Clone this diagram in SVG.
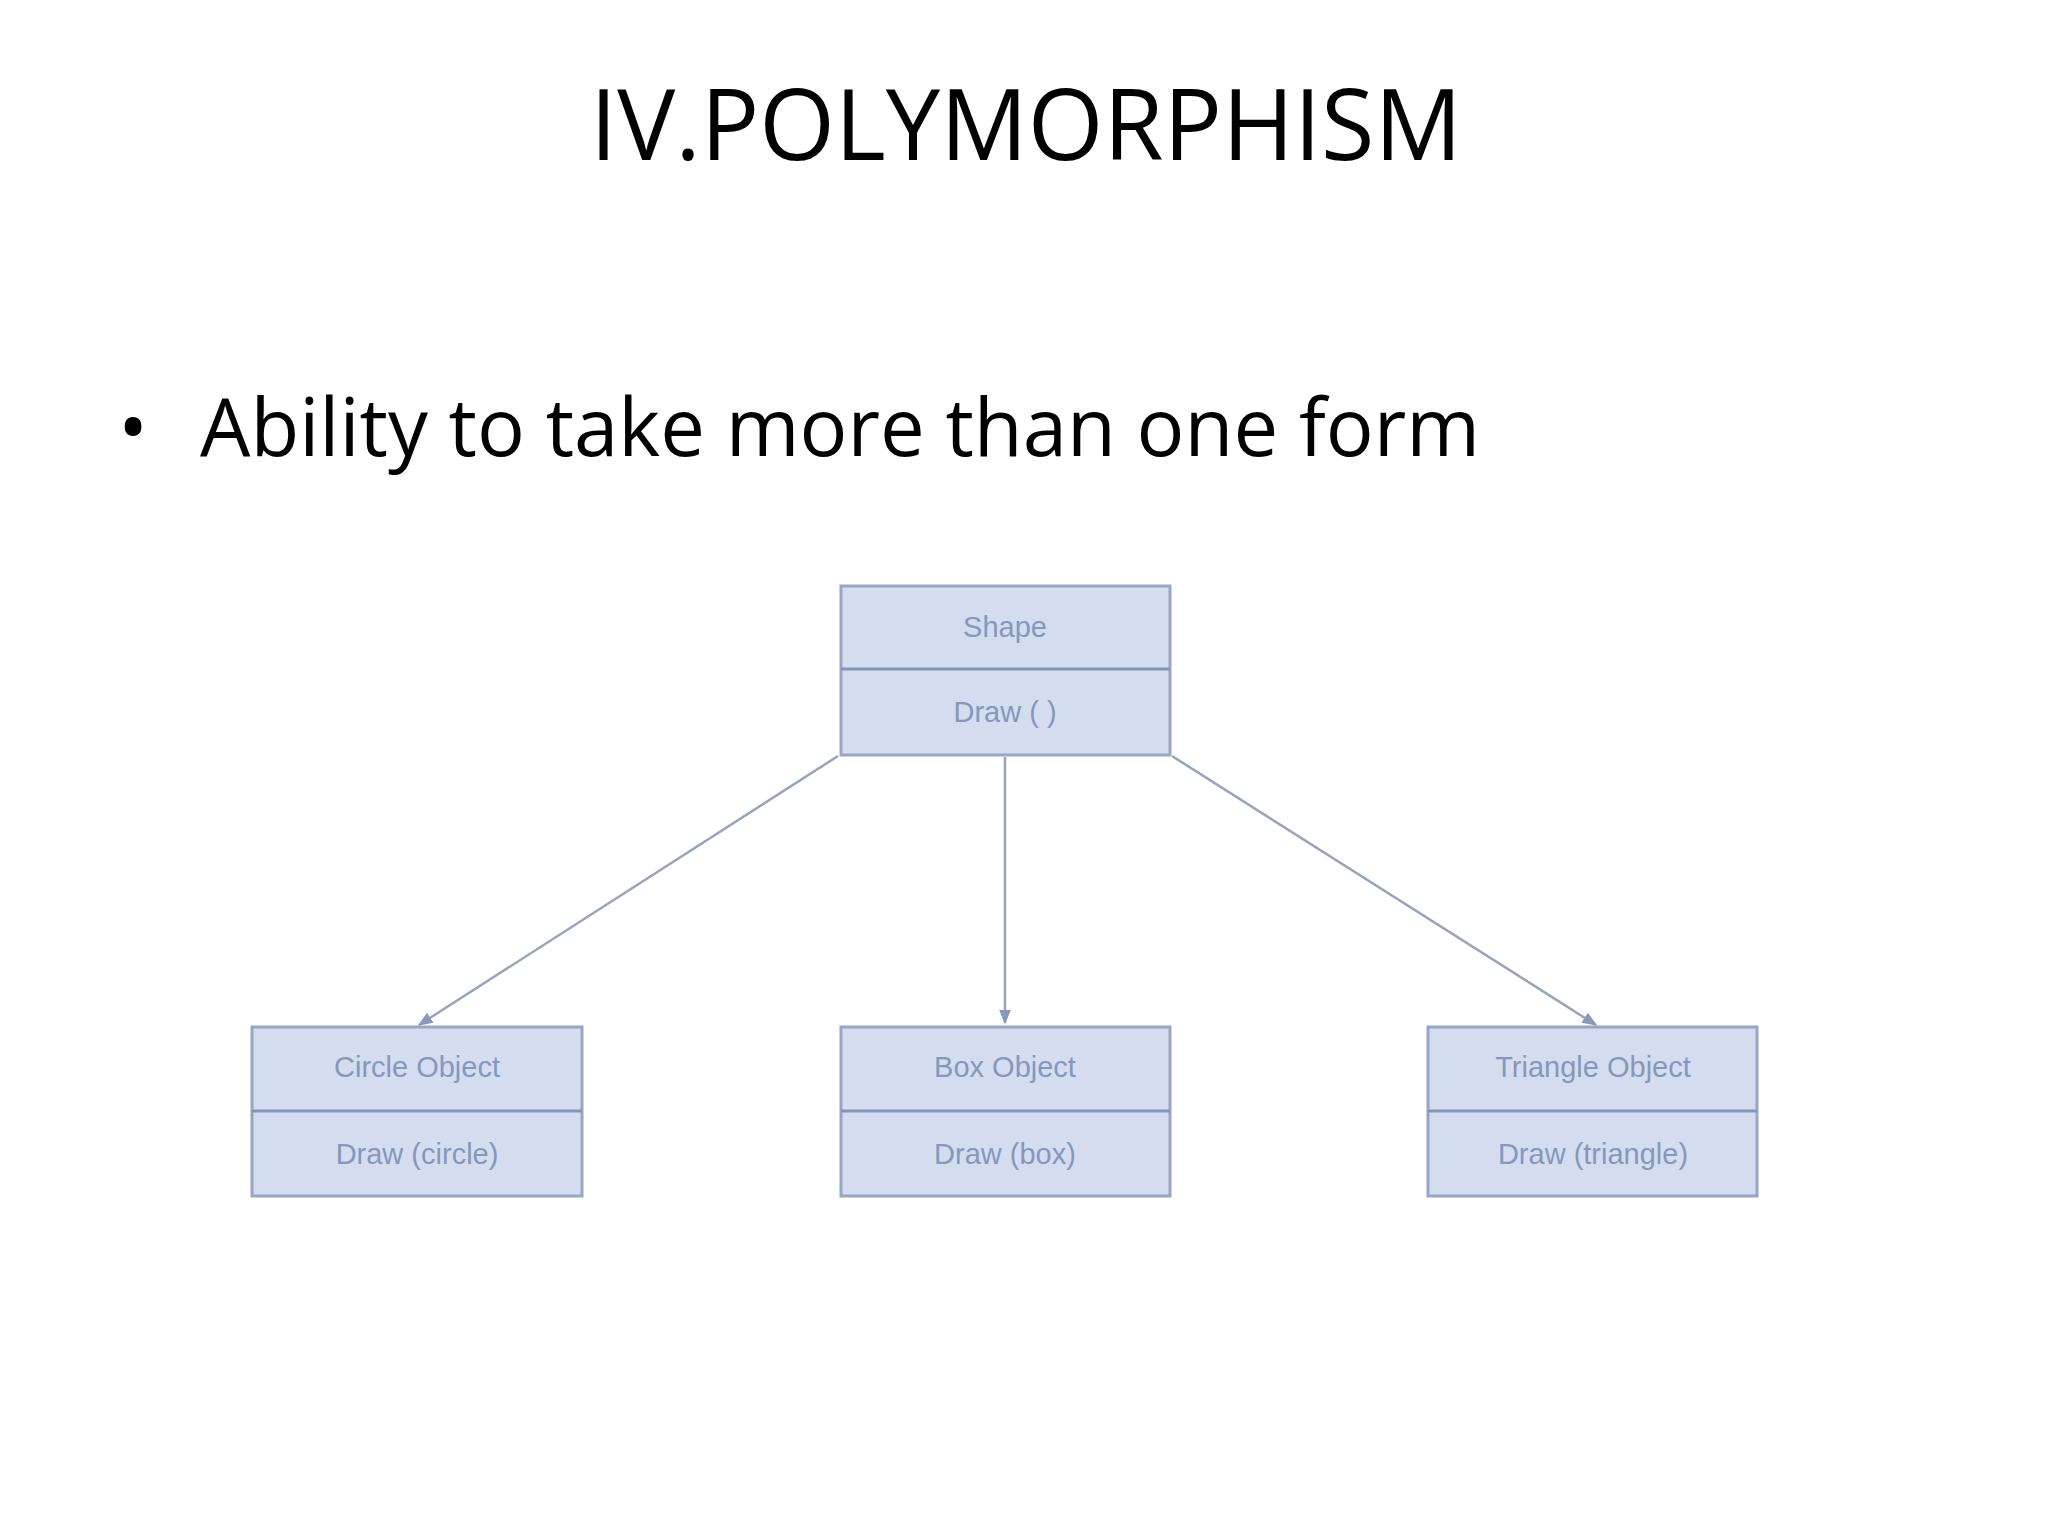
<svg xmlns="http://www.w3.org/2000/svg" width="2048" height="1536" viewBox="0 0 2048 1536">
<style>
.box{fill:#d3ddef;stroke:#97a6c3;stroke-width:3}
.div{stroke:#8595b5;stroke-width:3}
.lbl{font-family:"Liberation Sans",Arial,sans-serif;font-size:29px;fill:#8797b8;text-anchor:middle}
.con{stroke:#98a4bd;stroke-width:2.5;fill:none;marker-end:url(#a)}
</style>
<defs><marker id="a" viewBox="0 0 10 10" refX="9" refY="5" markerWidth="6" markerHeight="6" orient="auto"><path d="M0,1 L10,5 L0,9 z" fill="#8a98b5"/></marker></defs>
<rect width="2048" height="1536" fill="#fff"/>
<text x="1026" y="160" font-family="'Open Sans',sans-serif" font-size="98" text-anchor="middle" textLength="872" lengthAdjust="spacingAndGlyphs" fill="#000">IV.POLYMORPHISM</text>
<text x="118" y="456" font-family="'Open Sans',sans-serif" font-size="80" fill="#000">•</text>
<text x="200" y="456" font-family="'Open Sans',sans-serif" font-size="80" textLength="1280" lengthAdjust="spacingAndGlyphs" fill="#000">Ability to take more than one form</text>
<g id="connectors">
<line class="con" x1="838" y1="756" x2="419" y2="1025"/>
<line class="con" x1="1005" y1="757" x2="1005" y2="1023"/>
<line class="con" x1="1172" y1="756" x2="1596" y2="1025"/>
</g>
<g id="shape"><rect class="box" x="841" y="586" width="329" height="169"/><line class="div" x1="841" y1="669" x2="1170" y2="669"/><text class="lbl" x="1005" y="637">Shape</text><text class="lbl" x="1005" y="722">Draw ( )</text></g>
<g id="circle"><rect class="box" x="252" y="1027" width="330" height="169"/><line class="div" x1="252" y1="1111" x2="582" y2="1111"/><text class="lbl" x="417" y="1077">Circle Object</text><text class="lbl" x="417" y="1164">Draw (circle)</text></g>
<g id="box"><rect class="box" x="841" y="1027" width="329" height="169"/><line class="div" x1="841" y1="1111" x2="1170" y2="1111"/><text class="lbl" x="1005" y="1077">Box Object</text><text class="lbl" x="1005" y="1164">Draw (box)</text></g>
<g id="triangle"><rect class="box" x="1428" y="1027" width="329" height="169"/><line class="div" x1="1428" y1="1111" x2="1757" y2="1111"/><text class="lbl" x="1593" y="1077">Triangle Object</text><text class="lbl" x="1593" y="1164">Draw (triangle)</text></g>
</svg>
